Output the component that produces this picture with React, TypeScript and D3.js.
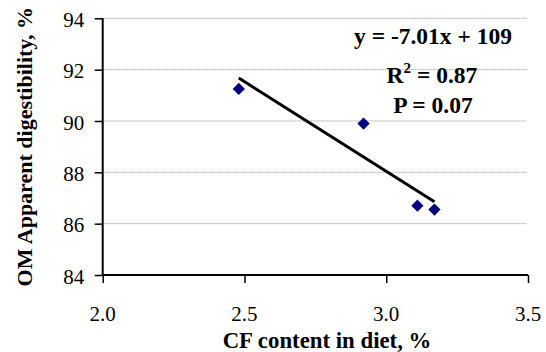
import React from 'react'
import * as d3 from 'd3'

// CF content in diet (%) vs OM apparent digestibility (%)
const cfContent = [2.48, 2.92, 3.11, 3.17]
const omDigestibility = [91.25, 89.9, 86.7, 86.55]

const xTicks = [2.0, 2.5, 3.0, 3.5]
const yTicks = [84, 86, 88, 90, 92, 94]

const eqLabel = 'y = -7.01x + 109'
const r2Value = '0.87'
const pLabel = 'P = 0.07'

const xTitle = 'CF content in diet, %'
const yTitle = 'OM Apparent digestibility, %'

const width = 546
const height = 352
const margin = { top: 18.3, right: 18, bottom: 77, left: 102.7 }
const FONT = '"Liberation Serif", "Times New Roman", Times, serif'

function App() {
  const svgRef = React.useRef<SVGSVGElement>(null)

  React.useEffect(() => {
    const svg = d3.select(svgRef.current)
    svg.selectAll('*').remove()

    const x = d3
      .scaleLinear()
      .domain([2.0, 3.5])
      .range([margin.left, width - margin.right])
    const y = d3
      .scaleLinear()
      .domain([84, 94])
      .range([height - margin.bottom, margin.top])

    // gridlines (dotted grey)
    svg
      .append('g')
      .selectAll('line')
      .data(yTicks.filter((t) => t !== 84))
      .enter()
      .append('line')
      .attr('x1', x(2.0))
      .attr('x2', x(3.5) - 1)
      .attr('y1', (d) => y(d))
      .attr('y2', (d) => y(d))
      .attr('stroke', '#8c8c8c')
      .attr('stroke-width', 1)
      .attr('stroke-dasharray', '1,1')

    // X axis (lines from d3, labels drawn below)
    const xAxis = svg
      .append('g')
      .attr('transform', `translate(0, ${y(84)})`)
      .call(d3.axisBottom(x).tickValues(xTicks).tickSize(8).tickFormat(() => ''))
    xAxis.select('.domain').attr('stroke', '#000').attr('stroke-width', 2)
      .attr('d', `M${x(2.0)},0H${x(3.5)}`)
    xAxis.selectAll('.tick line').attr('stroke', '#000').attr('stroke-width', 1.5)

    svg
      .append('g')
      .selectAll('text')
      .data(xTicks)
      .enter()
      .append('text')
      .attr('x', (d) => x(d))
      .attr('y', y(84) + 45.5)
      .attr('text-anchor', 'middle')
      .style('font-family', FONT)
      .style('font-size', '21px')
      .style('font-weight', 'normal')
      .attr('fill', '#000')
      .text((d) => d3.format('.1f')(d))

    // Y axis
    const yAxis = svg
      .append('g')
      .attr('transform', `translate(${x(2.0)}, 0)`)
      .call(d3.axisLeft(y).tickValues(yTicks).tickSize(8).tickFormat(() => ''))
    yAxis.select('.domain').attr('stroke', '#000').attr('stroke-width', 2)
      .attr('d', `M0,${y(94)}V${y(84)}`)
    yAxis.selectAll('.tick line').attr('stroke', '#000').attr('stroke-width', 1.5)

    svg
      .append('g')
      .selectAll('text')
      .data(yTicks)
      .enter()
      .append('text')
      .attr('x', x(2.0) - 18.5)
      .attr('y', (d) => y(d) + 8.7)
      .attr('text-anchor', 'end')
      .style('font-family', FONT)
      .style('font-size', '21px')
      .style('font-weight', 'normal')
      .attr('fill', '#000')
      .text((d) => String(d))

    // regression line from the data (least squares)
    const mx = d3.mean(cfContent) as number
    const my = d3.mean(omDigestibility) as number
    let sxy = 0
    let sxx = 0
    cfContent.forEach((cx, i) => {
      sxy += (cx - mx) * (omDigestibility[i] - my)
      sxx += (cx - mx) * (cx - mx)
    })
    const slope = sxy / sxx
    const intercept = my - slope * mx
    const [x0, x1] = d3.extent(cfContent) as [number, number]

    svg
      .append('line')
      .attr('x1', x(x0))
      .attr('y1', y(slope * x0 + intercept))
      .attr('x2', x(x1))
      .attr('y2', y(slope * x1 + intercept))
      .attr('stroke', '#000')
      .attr('stroke-width', 3)

    // points (navy diamonds)
    const diamond = d3.symbol().type(d3.symbolSquare).size(75)
    svg
      .append('g')
      .selectAll('path')
      .data(cfContent)
      .enter()
      .append('path')
      .attr('d', diamond() as string)
      .attr('transform', (d, i) => `translate(${x(d)}, ${y(omDigestibility[i])}) rotate(45)`)
      .attr('fill', '#000080')

    // annotation
    const note = svg
      .append('g')
      .style('font-family', FONT)
      .style('font-size', '23.5px')
      .style('font-weight', 'bold')
      .attr('fill', '#000')
      .attr('text-anchor', 'middle')

    note.append('text').attr('x', 433).attr('y', 44.3).text(eqLabel)

    const r2 = note.append('text').attr('x', 432).attr('y', 82.7)
    r2.append('tspan').text('R')
    r2.append('tspan').style('font-size', '15px').attr('dy', -9.5).text('2')
    r2.append('tspan').attr('dy', 9.5).text(` = ${r2Value}`)

    note.append('text').attr('x', 433).attr('y', 113.3).text(pLabel)

    // axis titles
    svg
      .append('text')
      .attr('x', 327)
      .attr('y', 348)
      .attr('text-anchor', 'middle')
      .style('font-family', FONT)
      .style('font-size', '22.8px')
      .style('font-weight', 'bold')
      .attr('fill', '#000')
      .text(xTitle)

    svg
      .append('text')
      .attr('transform', `translate(32, ${(y(84) + y(94)) / 2}) rotate(-90)`)
      .attr('text-anchor', 'middle')
      .style('font-family', FONT)
      .style('font-size', '22px')
      .style('font-weight', 'bold')
      .attr('fill', '#000')
      .text(yTitle)
  }, [])

  return (
    <svg
      ref={svgRef}
      width={width}
      height={height}
      style={{ position: 'absolute', left: 0, top: 0, background: '#fff' }}
    ></svg>
  )
}

export default App
